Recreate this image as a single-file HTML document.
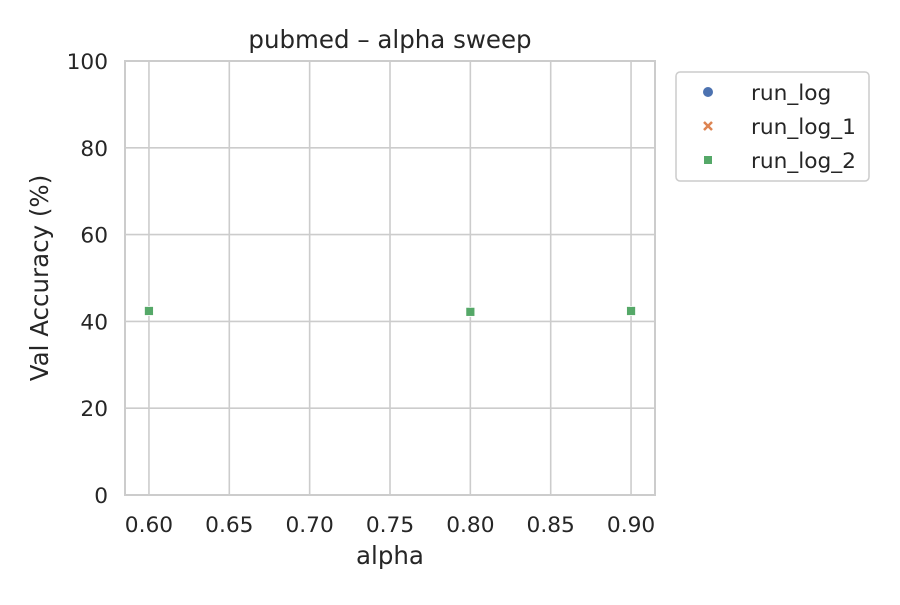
<!DOCTYPE html>
<html><head><meta charset="utf-8"><style>
body{margin:0;background:#fff;width:900px;height:600px;overflow:hidden}
text{font-family:"DejaVu Sans","Liberation Sans",sans-serif;fill:#262626}
</style></head><body>
<svg id="chart" width="900" height="600" xmlns="http://www.w3.org/2000/svg"></svg>
<script>
const xTicks=[0.60,0.65,0.70,0.75,0.80,0.85,0.90];
const yTicks=[0,20,40,60,80,100];
const alphas=[0.6,0.8,0.9];
const runLog=[42.4,42.2,42.4];
const runLog1=[42.4,42.2,42.4];
const runLog2=[42.4,42.2,42.4];
const L=125,R=655,T=61,B=495,xmin=0.5851,xmax=0.9149,ymin=0,ymax=100;
const sx=v=>L+(v-xmin)/(xmax-xmin)*(R-L);
const sy=v=>B-(v-ymin)/(ymax-ymin)*(B-T);
const svg=document.getElementById('chart');
const NS='http://www.w3.org/2000/svg';
function mk(tag,attrs,txt){const e=document.createElementNS(NS,tag);for(const k in attrs)e.setAttribute(k,attrs[k]);if(txt!==undefined)e.textContent=txt;svg.appendChild(e);return e;}
xTicks.forEach(t=>{
 const g=mk('line',{x1:sx(t),x2:sx(t),y1:T,y2:B,stroke:'#cccccc','stroke-width':1.6});
 
 
 const tl=mk('text',{x:sx(t),y:B+37,'text-anchor':'middle','font-size':21.7},t.toFixed(2));
 
 
});
yTicks.forEach(t=>{
 const g=mk('line',{x1:L,x2:R,y1:sy(t),y2:sy(t),stroke:'#cccccc','stroke-width':1.6});
 
 
 const tl=mk('text',{x:L-17,y:sy(t)+8,'text-anchor':'end','font-size':21.7},String(t));
 
 
});
const fr=mk('rect',{x:L,y:T,width:R-L,height:B-T,fill:'none',stroke:'#cccccc','stroke-width':2});


alphas.forEach((a,i)=>{
 const c=mk('circle',{cx:sx(a),cy:sy(runLog[i]),r:4.5,fill:'#4c72b0',stroke:'#fff'});
 
 
 const x=sx(a),y=sy(runLog1[i]);
 const p=mk('path',{d:`M${x-4} ${y-4}L${x+4} ${y+4}M${x-4} ${y+4}L${x+4} ${y-4}`,stroke:'#dd8452','stroke-width':2.5});
 
 
 const s=mk('rect',{x:sx(a)-4.5,y:sy(runLog2[i])-4.5,width:9,height:9,fill:'#55a868',stroke:'#fff','stroke-width':0.8});
 
 
});
const tt=mk('text',{x:390,y:48,'text-anchor':'middle','font-size':24.5},'pubmed – alpha sweep');


const xt=mk('text',{x:390,y:564,'text-anchor':'middle','font-size':24.5},'alpha');


const yt=mk('text',{x:0,y:0,'text-anchor':'middle','font-size':24.5,transform:'translate(48,278) rotate(-90)'},'Val Accuracy (%)');


const lb=mk('rect',{x:676,y:72,width:193,height:109,rx:4,fill:'#fff',stroke:'#cccccc','stroke-width':1.5});


const names=['run_log','run_log_1','run_log_2'];
names.forEach((n,i)=>{
 const y=92+i*34;
 let m;
 if(i===0)m=mk('circle',{cx:708,cy:y,r:5,fill:'#4c72b0'});
 else if(i===1)m=mk('path',{d:`M704 ${y-4}L712 ${y+4}M704 ${y+4}L712 ${y-4}`,stroke:'#dd8452','stroke-width':2.5});
 else m=mk('rect',{x:704,y:y-4,width:8,height:8,fill:'#55a868'});
 
 
 const t=mk('text',{x:751,y:y+8,'font-size':21.7},n);
 
 
});
</script>
</body></html>
